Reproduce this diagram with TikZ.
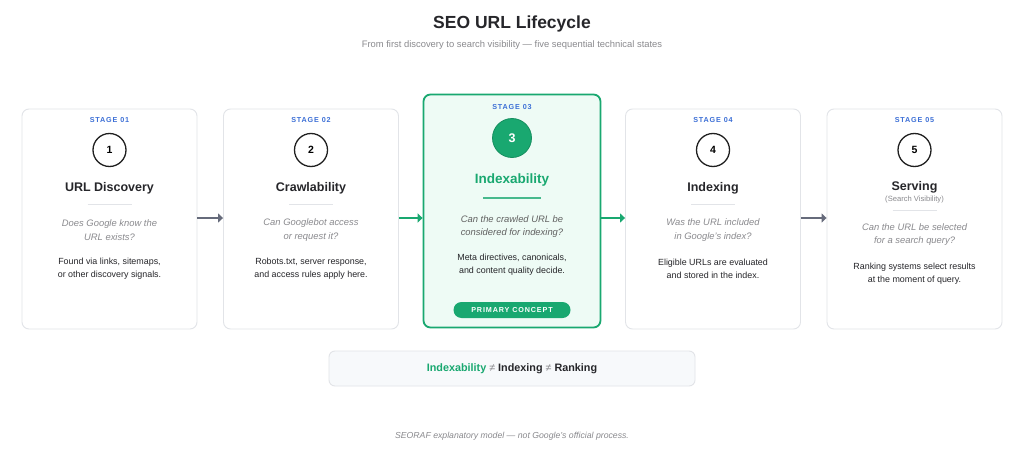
\documentclass[tikz,border=0pt]{standalone}
\usepackage{fontspec}
\setmainfont{Liberation Sans}
\newfontfamily\widefont[LetterSpace=12]{Liberation Sans}
\usetikzlibrary{arrows.meta}

\definecolor{cardline}{HTML}{E2E4E8}
\definecolor{stageblue}{HTML}{3C6FD6}
\definecolor{seogreen}{HTML}{19A870}
\definecolor{softgreen}{HTML}{EEFBF5}
\definecolor{asktext}{HTML}{8A8A8E}
\definecolor{bodytext}{HTML}{26262A}
\definecolor{arrowgray}{HTML}{666B7B}
\definecolor{boxfill}{HTML}{F7F9FB}

\begin{document}
\begin{tikzpicture}[x=1pt,y=-1pt,
  card/.style={draw=cardline, line width=0.9pt, fill=white, rounded corners=7pt,
    minimum width=175pt, minimum height=220pt, inner sep=0pt},
  hotcard/.style={draw=seogreen, line width=1.8pt, fill=softgreen, rounded corners=7pt,
    minimum width=177pt, minimum height=233pt, inner sep=0pt},
  stage/.style={text=stageblue, font=\widefont\bfseries\fontsize{7.2}{8}\selectfont, inner sep=0pt},
  num/.style={circle, draw=black!88, line width=1.3pt, minimum size=33pt, inner sep=0pt,
    font=\bfseries\fontsize{10.5}{12}\selectfont},
  hotnum/.style={circle, draw=seogreen!85!black, line width=0.8pt, fill=seogreen, text=white,
    minimum size=39pt, inner sep=0pt, font=\bfseries\fontsize{12.5}{14}\selectfont},
  head/.style={text=bodytext, font=\bfseries\fontsize{12.5}{14}\selectfont, inner sep=0pt},
  rule/.style={draw=cardline, line width=0.9pt},
  ask/.style={text=asktext, align=center, inner sep=0pt,
    font=\itshape\fontsize{9.4}{13.5}\selectfont},
  note/.style={text=bodytext, align=center, inner sep=0pt,
    font=\fontsize{8.9}{13}\selectfont},
  flow/.style={draw=arrowgray, line width=1.5pt, -{Triangle[length=5pt,width=9pt]}},
  hotflow/.style={draw=seogreen, line width=1.5pt, -{Triangle[length=5pt,width=9pt]}}
]
\useasboundingbox[fill=white] (0,0) rectangle (1024,468);

% title
\node[font=\bfseries\fontsize{17.5}{20}\selectfont, text=bodytext] (title) at (512,24) {SEO URL Lifecycle};
\node[font=\fontsize{9.4}{11}\selectfont, text=asktext] (subtitle) at (512,45)
  {From first discovery to search visibility — five sequential technical states};

% cards
\node[card] (c1) at (109.5,219) {};
\node[card] (c2) at (311,219) {};
\node[hotcard] (c3) at (512,211) {};
\node[card] (c4) at (713,219) {};
\node[card] (c5) at (914.5,219) {};

% stage 01
\node[stage] (s1) at (109.5,120) {STAGE 01};
\node[num] (n1) at (109.5,150) {1};
\node[head] (h1) at (109.5,188) {URL Discovery};
\draw[rule] (87.5,204) -- (131.5,204);
\node[ask] (q1) at (109.5,230) {Does Google know the\\URL exists?};
\node[note] (b1) at (109.5,268.5) {Found via links, sitemaps,\\or other discovery signals.};

% stage 02
\node[stage] (s2) at (311,120) {STAGE 02};
\node[num] (n2) at (311,150) {2};
\node[head] (h2) at (311,188) {Crawlability};
\draw[rule] (289,204) -- (333,204);
\node[ask] (q2) at (311,230) {Can Googlebot access\\or request it?};
\node[note] (b2) at (311,268.5) {Robots.txt, server response,\\and access rules apply here.};

% stage 03
\node[stage] (s3) at (512,107) {STAGE 03};
\node[hotnum] (n3) at (512,138) {3};
\node[head, text=seogreen, font=\bfseries\fontsize{13.5}{15}\selectfont] (h3) at (512,180) {Indexability};
\draw[draw=seogreen!80, line width=1.2pt] (483,198) -- (541,198);
\node[ask, text=black!62] (q3) at (512,226.5) {Can the crawled URL be\\considered for indexing?};
\node[note] (b3) at (512,264.5) {Meta directives, canonicals,\\and content quality decide.};
\node[fill=seogreen, rounded corners=8pt, minimum width=117pt, minimum height=16pt, inner sep=0pt,
  text=white, font=\widefont\bfseries\fontsize{7.2}{8}\selectfont] (tag) at (512,310) {PRIMARY CONCEPT};

% stage 04
\node[stage] (s4) at (713,120) {STAGE 04};
\node[num] (n4) at (713,150) {4};
\node[head] (h4) at (713,188) {Indexing};
\draw[rule] (691,204) -- (735,204);
\node[ask] (q4) at (713,230) {Was the URL included\\in Google's index?};
\node[note] (b4) at (713,268.5) {Eligible URLs are evaluated\\and stored in the index.};

% stage 05
\node[stage] (s5) at (914.5,120) {STAGE 05};
\node[num] (n5) at (914.5,150) {5};
\node[head] (h5) at (914.5,187) {Serving};
\node[text=asktext, font=\fontsize{7.6}{9}\selectfont, inner sep=0pt] (v5) at (914.5,200) {(Search Visibility)};
\draw[rule] (892.5,210) -- (936.5,210);
\node[ask] (q5) at (914.5,234.5) {Can the URL be selected\\for a search query?};
\node[note] (b5) at (914.5,273.5) {Ranking systems select results\\at the moment of query.};

% arrows
\draw[flow] (c1.east |- 0,218) -- (c2.west |- 0,218);
\draw[hotflow] (c2.east |- 0,218) -- (c3.west |- 0,218);
\draw[hotflow] (c3.east |- 0,218) -- (c4.west |- 0,218);
\draw[flow] (c4.east |- 0,218) -- (c5.west |- 0,218);

% summary
\node[draw=cardline, fill=boxfill, line width=0.9pt, rounded corners=6pt, minimum width=366pt,
  minimum height=35pt, font=\bfseries\fontsize{10.8}{12}\selectfont, text=bodytext] (sum) at (512,368.5)
  {\textcolor{seogreen}{Indexability} \textcolor{asktext}{\mdseries ≠} Indexing \textcolor{asktext}{\mdseries ≠} Ranking};

% footer
\node[font=\itshape\fontsize{8.7}{10}\selectfont, text=asktext] (foot) at (512,436)
  {SEORAF explanatory model — not Google's official process.};
\end{tikzpicture}
\end{document}
